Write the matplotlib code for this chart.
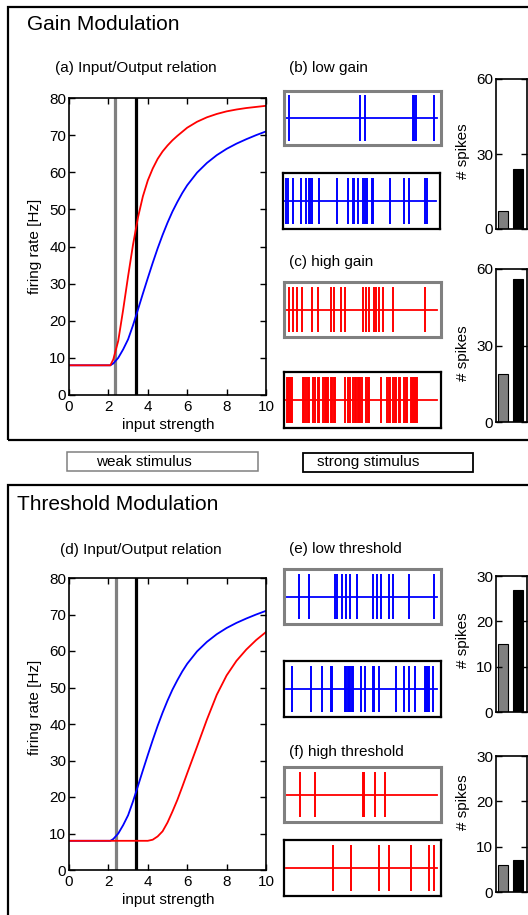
import matplotlib.pyplot as plt
from matplotlib.patches import Rectangle

plt.rcParams['font.family'] = ['Liberation Sans', 'DejaVu Sans']

W, H = 528, 915

# input/output curves
x_in = [0, 0.5, 1.0, 1.5, 2.0, 2.1, 2.25, 2.5, 2.75, 3.0, 3.25, 3.5, 3.75, 4.0, 4.25,
        4.5, 4.75, 5.0, 5.25, 5.5, 5.75, 6.0, 6.5, 7.0, 7.5, 8.0, 8.5, 9.0, 9.5, 10.0]
rate_base = [8, 8, 8, 8, 8, 8, 8.5, 10, 12.3, 15, 18.8, 23, 27.3, 31.5, 35.6,
             39.5, 43.1, 46.4, 49.4, 52, 54.4, 56.5, 59.9, 62.5, 64.6, 66.3, 67.7, 68.9, 70.0, 71.0]
rate_high_gain = [8, 8, 8, 8, 8, 8, 9.6, 14.6, 23, 32, 40.5, 47.8, 53.5, 57.8, 61,
                  63.6, 65.6, 67.2, 68.6, 69.8, 70.9, 72, 73.6, 74.8, 75.7, 76.4, 76.9, 77.3, 77.6, 77.9]
rate_high_thr = [8, 8, 8, 8, 8, 8, 8, 8, 8, 8, 8, 8, 8, 8, 8.3,
                 9.2, 10.6, 13, 16, 19.2, 22.8, 26.5, 33.8, 41.2, 48, 53.3, 57.3, 60.4, 63, 65.2]

weak_input = [2.35, 2.4]
strong_input = [3.4, 3.42]

# spike times (fraction of trial)
b_weak = [0.02, 0.49, 0.52, 0.84, 0.85, 0.86, 0.98]
b_strong = [0.009, 0.018, 0.053, 0.106, 0.141, 0.161, 0.167, 0.176, 0.225, 0.342, 0.415, 0.448,
            0.457, 0.485, 0.517, 0.532, 0.541, 0.574, 0.583, 0.695, 0.790, 0.823, 0.929, 0.943]
c_weak = [0.020, 0.048, 0.075, 0.104, 0.170, 0.214, 0.300, 0.320, 0.364, 0.389, 0.508, 0.530,
          0.550, 0.585, 0.598, 0.614, 0.641, 0.707, 0.923]
c_strong = [0.004, 0.011, 0.018, 0.024, 0.031, 0.038, 0.115, 0.121, 0.135, 0.143, 0.150, 0.181,
            0.190, 0.212, 0.221, 0.247, 0.256, 0.263, 0.272, 0.280, 0.296, 0.305, 0.316, 0.325,
            0.389, 0.411, 0.424, 0.446, 0.455, 0.464, 0.475, 0.483, 0.492, 0.501, 0.532, 0.543,
            0.552, 0.627, 0.671, 0.680, 0.691, 0.711, 0.722, 0.731, 0.746, 0.757, 0.781, 0.793,
            0.801, 0.828, 0.834, 0.841, 0.848, 0.854, 0.861, 0.868]
e_weak = [0.084, 0.150, 0.327, 0.336, 0.371, 0.397, 0.426, 0.470, 0.574, 0.600, 0.631, 0.684,
          0.706, 0.812, 0.980]
e_strong = [0.038, 0.163, 0.238, 0.296, 0.305, 0.391, 0.400, 0.408, 0.417, 0.426, 0.435, 0.444,
            0.497, 0.525, 0.574, 0.585, 0.616, 0.726, 0.784, 0.817, 0.854, 0.918, 0.925, 0.932,
            0.938, 0.945, 0.971]
f_weak = [0.093, 0.192, 0.508, 0.517, 0.589, 0.656]
f_strong = [0.313, 0.428, 0.616, 0.682, 0.826, 0.945, 0.980]

fig = plt.figure(figsize=(W / 100, H / 100), dpi=100)


def add_ax(l, t, r, b):
    return fig.add_axes([l / W, 1 - b / H, (r - l) / W, (b - t) / H])


def txt(x, y, s, **kw):
    kw.setdefault('va', 'center')
    fig.text(x / W, 1 - y / H, s, **kw)


def io_panel(box, curves, stim):
    ax = add_ax(*box)
    ax.axvline(stim[0], color='gray', lw=2.3)
    ax.axvline(stim[1], color='black', lw=2.3)
    for y, c in curves:
        ax.plot(x_in, y, color=c, lw=1.3)
    ax.set_xlim(0, 10)
    ax.set_ylim(0, 80)
    ax.set_xticks(range(0, 11, 2))
    ax.set_yticks(range(0, 81, 10))
    ax.tick_params(direction='in', top=True, right=True, length=4, width=1, labelsize=11, pad=2)
    ax.tick_params(axis='x', pad=3.5)
    for s in ax.spines.values():
        s.set_linewidth(1.2)
    return ax


def spike_panel(box, times, color, edge, elw):
    ax = add_ax(*box)
    ax.vlines(times, -1, 1, color=color, lw=1.4)
    ax.plot([0, 1], [0, 0], color=color, lw=1.3)
    ax.set_xlim(-0.013, 1.026)
    ax.set_ylim(-1.2, 1.2)
    ax.set_xticks([])
    ax.set_yticks([])
    for s in ax.spines.values():
        s.set_edgecolor(edge)
        s.set_linewidth(elw)


def bar_panel(box, weak, strong, ymax, yticks):
    ax = add_ax(*box)
    ax.bar([0, 1], [len(weak), len(strong)], width=0.67, color=['gray', 'black'],
           edgecolor='black', lw=0.8)
    ax.set_xlim(-0.47, 1.6)
    ax.set_ylim(0, ymax)
    ax.set_xticks([])
    ax.set_yticks(yticks)
    ax.tick_params(direction='in', right=True, length=4, width=1, labelsize=11, pad=2)
    for s in ax.spines.values():
        s.set_linewidth(1.2)


# outer frames
for (l, t, r, b) in [(8, 7, 545, 440), (8, 485, 545, 940)]:
    fig.add_artist(Rectangle((l / W, 1 - b / H), (r - l) / W, (b - t) / H,
                             transform=fig.transFigure, fill=False, lw=1.6, ec='black',
                             clip_on=False))

# legend boxes
fig.add_artist(Rectangle((67 / W, 1 - 471 / H), 191 / W, 19 / H, transform=fig.transFigure,
                         fill=False, lw=1.1, ec='gray'))
fig.add_artist(Rectangle((303 / W, 1 - 472 / H), 170 / W, 19 / H, transform=fig.transFigure,
                         fill=False, lw=1.3, ec='black'))
txt(96, 462, 'weak stimulus', fontsize=11)
txt(317, 462, 'strong stimulus', fontsize=11)

# gain modulation
txt(27, 24, 'Gain Modulation', fontsize=15)
txt(55, 68, '(a) Input/Output relation', fontsize=11)
io_panel((69, 98, 266, 395), [(rate_base, 'blue'), (rate_high_gain, 'red')], (weak_input[0], strong_input[0]))
txt(168, 425, 'input strength', fontsize=11, ha='center')
txt(35, 246, 'firing rate [Hz]', fontsize=11, ha='center', rotation=90)

txt(289, 68, '(b) low gain', fontsize=11)
spike_panel((284, 91, 441, 145), b_weak, 'blue', 'gray', 2.2)
spike_panel((283, 173, 440, 229), b_strong, 'blue', 'black', 1.6)
txt(289, 262, '(c) high gain', fontsize=11)
spike_panel((284, 282, 441, 337), c_weak, 'red', 'gray', 2.2)
spike_panel((284, 372, 441, 428), c_strong, 'red', 'black', 1.6)

bar_panel((496, 79, 527, 229), b_weak, b_strong, 60, [0, 30, 60])
bar_panel((496, 269, 527, 422), c_weak, c_strong, 60, [0, 30, 60])
txt(463, 151, '# spikes', fontsize=11, ha='center', rotation=90)
txt(463, 353, '# spikes', fontsize=11, ha='center', rotation=90)

# threshold modulation
txt(17, 505, 'Threshold Modulation', fontsize=15)
txt(60, 550, '(d) Input/Output relation', fontsize=11)
io_panel((69, 578, 266, 870), [(rate_base, 'blue'), (rate_high_thr, 'red')], (weak_input[1], strong_input[1]))
txt(168, 900, 'input strength', fontsize=11, ha='center')
txt(35, 707, 'firing rate [Hz]', fontsize=11, ha='center', rotation=90)

txt(289, 549, '(e) low threshold', fontsize=11)
spike_panel((284, 569, 441, 624), e_weak, 'blue', 'gray', 2.2)
spike_panel((284, 661, 441, 717), e_strong, 'blue', 'black', 1.6)
txt(289, 752, '(f) high threshold', fontsize=11)
spike_panel((284, 767, 441, 822), f_weak, 'red', 'gray', 2.2)
spike_panel((284, 840, 441, 896), f_strong, 'red', 'black', 1.6)

bar_panel((496, 576, 527, 712), e_weak, e_strong, 30, [0, 10, 20, 30])
bar_panel((496, 756, 527, 892), f_weak, f_strong, 30, [0, 10, 20, 30])
txt(463, 640, '# spikes', fontsize=11, ha='center', rotation=90)
txt(463, 802, '# spikes', fontsize=11, ha='center', rotation=90)

fig.savefig('out.png', dpi=100)
